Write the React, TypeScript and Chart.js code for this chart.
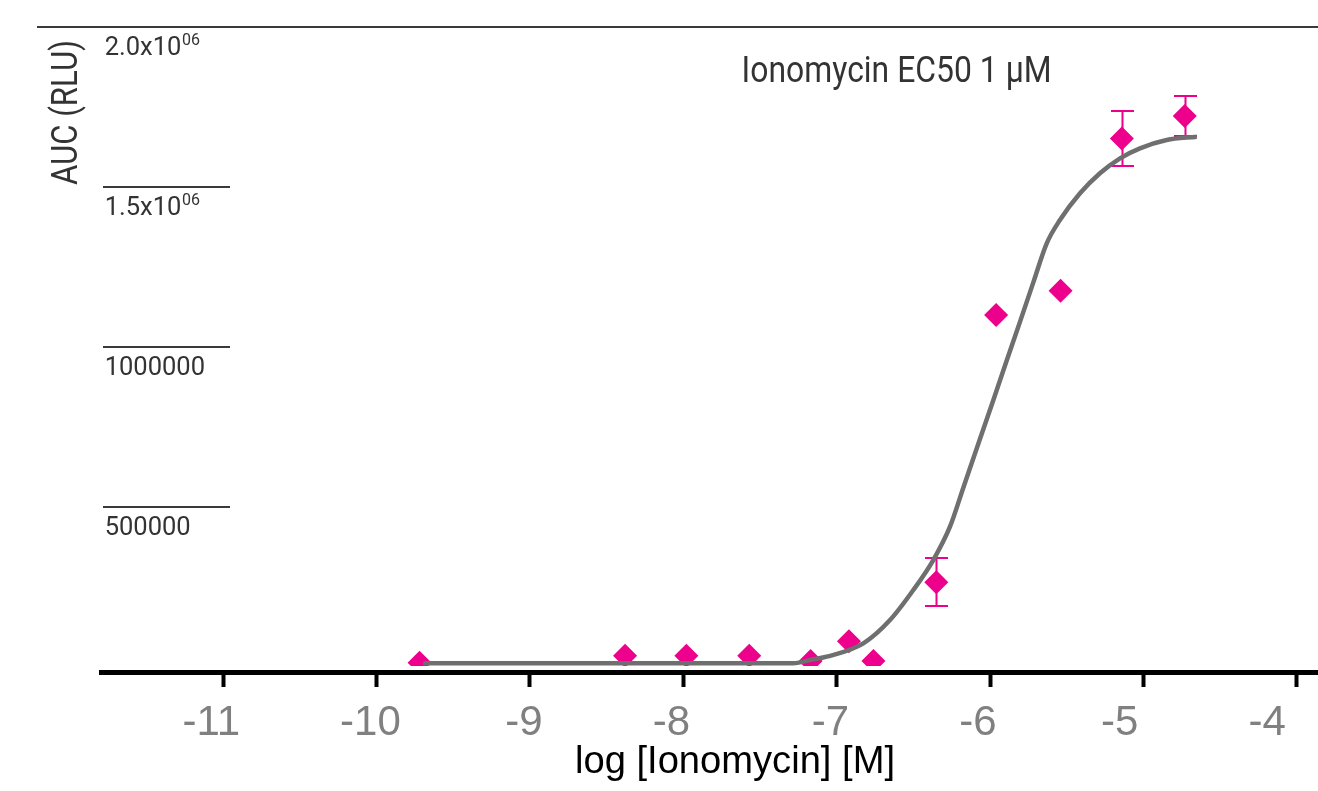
import React, { useEffect, useRef } from 'react';
import { Chart, registerables } from 'chart.js';

Chart.register(...registerables);

// ---- data ----
const logConc = [-9.72, -8.38, -7.98, -7.57, -7.17, -6.92, -6.76, -6.35, -5.96, -5.54, -5.14, -4.73];
const aucMean = [12500, 34400, 34400, 34400, 17800, 79400, 17800, 263800, 1099000, 1175000, 1651000, 1721000];
const aucErr = [0, 0, 0, 0, 0, 0, 0, 75000, 0, 0, 87000, 63000];

const fitX = [-9.696, -7.478, -7.283, -7.152, -7.065, -6.826, -6.652, -6.500, -6.370, -6.261, -6.174, -6.065, -5.978, -5.891, -5.804, -5.718, -5.630, -5.544, -5.413, -5.283, -5.152, -5.022, -4.848, -4.652];
const fitY = [10600, 10600, 10600, 23100, 31250, 73100, 145900, 239700, 333400, 437500, 559400, 712200, 833750, 956600, 1078400, 1200300, 1323100, 1395900, 1479400, 1541900, 1588750, 1620000, 1645900, 1656250];

const xTicks = [-11, -10, -9, -8, -7, -6, -5, -4];
const xTickLabels = ['-11', '-10', '-9', '-8', '-7', '-6', '-5', '-4'];
const yTicks = [500000, 1000000, 1500000, 2000000];
const yTickLabels = ['500000', '1000000', '1.5x10', '2.0x10'];
const yTickExponents = ['', '', '06', '06'];

const xTitle = 'log [Ionomycin] [M]';
const yTitle = 'AUC (RLU)';
const annotationText = 'Ionomycin EC50 1 \u00B5M';
const annotationAt = { x: -7.62, y: 1826000 };

const xMin = -11.793;
const xMax = -3.861;
const yMin = -16560;
const yMax = 2000000;

// small per-label horizontal nudges (in spaces) matching the reference placement
const xLabelNudge = [0, 1, 1, 0, 1, 0, -2, -3];

const PINK = '#EC008C';
const CURVE = '#6f6f6f';
const DARK = '#333333';
const Y_FONT = 25.5;
const Y_LABEL_OFFSET = 21.5;

function drawFitted(
  ctx: CanvasRenderingContext2D,
  text: string,
  x: number,
  y: number,
  targetWidth: number,
  font: string,
  color: string,
  rotate: boolean
) {
  ctx.save();
  ctx.font = font;
  ctx.fillStyle = color;
  ctx.textAlign = 'left';
  ctx.textBaseline = 'alphabetic';
  const w = ctx.measureText(text).width;
  ctx.translate(x, y);
  if (rotate) ctx.rotate(-Math.PI / 2);
  ctx.scale(targetWidth / w, 1);
  ctx.fillText(text, 0, 0);
  ctx.restore();
}

const decorPlugin = {
  id: 'decor',
  beforeDatasetsDraw(chart: any) {
    const { ctx } = chart;
    const xs = chart.scales.x;
    const ys = chart.scales.y;
    ctx.save();
    // short reference lines above each y label, the top one spanning the page
    ctx.strokeStyle = '#3a3a3a';
    ctx.lineWidth = 2;
    yTicks.forEach((v, i) => {
      const py = Math.round(ys.getPixelForValue(v));
      const isTop = i === yTicks.length - 1;
      ctx.beginPath();
      ctx.moveTo(isTop ? 37 : 103, py);
      ctx.lineTo(isTop ? chart.width : 230, py);
      ctx.stroke();
    });
    // exponents of the y labels
    ctx.fillStyle = DARK;
    ctx.textAlign = 'left';
    ctx.textBaseline = 'alphabetic';
    yTicks.forEach((v, i) => {
      const ex = yTickExponents[i];
      if (!ex) return;
      ctx.font = `${Y_FONT}px Roboto`;
      const w = ctx.measureText(yTickLabels[i]).width;
      const py = ys.getPixelForValue(v) + Y_LABEL_OFFSET;
      ctx.font = '16px Roboto';
      ctx.fillText(ex, chart.chartArea.left + 3 + w + 0.5, py - 3);
    });
    // error bars
    ctx.strokeStyle = PINK;
    ctx.lineWidth = 2;
    logConc.forEach((cx, i) => {
      const e = aucErr[i];
      if (!e) return;
      const px = Math.round(xs.getPixelForValue(cx)) + 0.5;
      const top = Math.round(ys.getPixelForValue(aucMean[i] + e));
      const bot = Math.round(ys.getPixelForValue(aucMean[i] - e));
      ctx.beginPath();
      ctx.moveTo(px, top);
      ctx.lineTo(px, bot);
      ctx.moveTo(px - 11.5, top);
      ctx.lineTo(px + 11.5, top);
      ctx.moveTo(px - 11.5, bot);
      ctx.lineTo(px + 11.5, bot);
      ctx.stroke();
    });
    ctx.restore();
  },
  afterDraw(chart: any) {
    const { ctx } = chart;
    const xs = chart.scales.x;
    const ys = chart.scales.y;
    drawFitted(
      ctx,
      annotationText,
      xs.getPixelForValue(annotationAt.x),
      ys.getPixelForValue(annotationAt.y),
      310,
      '36px Roboto',
      DARK,
      false
    );
    drawFitted(ctx, yTitle, 76.7, 185, 145, '36px Roboto', DARK, true);
    drawFitted(ctx, xTitle, 575, 773.3, 320, '38.5px "Liberation Sans"', '#000000', false);
  },
};

export default function App() {
  const ref = useRef<HTMLCanvasElement>(null);

  useEffect(() => {
    const canvas = ref.current;
    if (!canvas) return;
    const clip = { left: false, top: false, right: false, bottom: -6 } as any;
    const chart = new Chart(canvas, {
      type: 'scatter',
      data: {
        datasets: [
          {
            label: 'fit',
            data: fitX.map((x, i) => ({ x, y: fitY[i] })),
            showLine: true,
            borderColor: CURVE,
            borderWidth: 4.5,
            pointRadius: 0,
            cubicInterpolationMode: 'monotone',
            fill: false,
            clip,
          } as any,
          {
            label: 'Ionomycin',
            data: logConc.map((x, i) => ({ x, y: aucMean[i] })),
            showLine: false,
            pointStyle: 'rectRot',
            pointRadius: 12,
            backgroundColor: PINK,
            borderColor: PINK,
            borderWidth: 0,
            clip,
          } as any,
        ],
      },
      options: {
        responsive: false,
        animation: false,
        events: [],
        layout: { autoPadding: false, padding: { left: 98.7, top: 26.7, right: 0, bottom: 42.6 } },
        plugins: {
          legend: { display: false },
          tooltip: { enabled: false },
          title: { display: false },
        },
        scales: {
          x: {
            type: 'linear',
            min: xMin,
            max: xMax,
            afterBuildTicks: (s: any) => {
              s.ticks = xTicks.map((v) => ({ value: v }));
            },
            afterFit: (s: any) => {
              s.height = 76.4;
              s.paddingLeft = 0;
              s.paddingRight = 0;
            },
            grid: {
              display: true,
              drawOnChartArea: false,
              drawTicks: true,
              tickLength: 15,
              tickWidth: 4,
              tickColor: '#000000',
              color: '#000000',
            },
            border: { display: true, color: '#000000', width: 5 },
            ticks: {
              color: '#808080',
              font: { family: '"Liberation Sans"', size: 42 },
              padding: 11,
              labelOffset: -12,
              maxRotation: 0,
              autoSkip: false,
              callback: (v: any) => {
                const i = xTicks.indexOf(Number(v));
                if (i < 0) return '';
                const n = xLabelNudge[i];
                const pad = ' '.repeat(Math.abs(n));
                return n > 0 ? pad + xTickLabels[i] : xTickLabels[i] + pad;
              },
            },
          },
          y: {
            type: 'linear',
            min: yMin,
            max: yMax,
            afterBuildTicks: (s: any) => {
              s.ticks = yTicks.map((v) => ({ value: v }));
            },
            afterFit: (s: any) => {
              s.width = 3;
              s.paddingTop = 0;
              s.paddingBottom = 0;
            },
            grid: { display: false, drawTicks: false },
            border: { display: false },
            ticks: {
              mirror: true,
              padding: 3,
              labelOffset: Y_LABEL_OFFSET,
              color: DARK,
              font: { family: 'Roboto', size: Y_FONT },
              callback: (v: any) => {
                const i = yTicks.indexOf(Number(v));
                return i >= 0 ? yTickLabels[i] : '';
              },
            },
          },
        },
      } as any,
      plugins: [decorPlugin],
    });
    return () => chart.destroy();
  }, []);

  return (
    <div style={{ position: 'fixed', left: 0, top: 0, width: 1318, height: 791, background: '#ffffff' }}>
      <canvas ref={ref} width={1318} height={791} style={{ display: 'block', width: 1318, height: 791 }} />
    </div>
  );
}
